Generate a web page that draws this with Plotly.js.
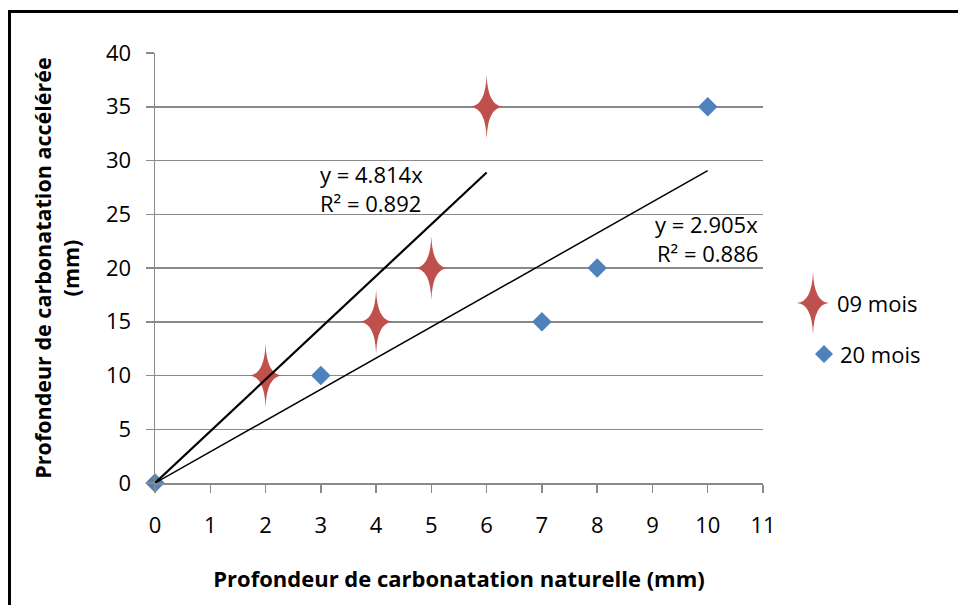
<!DOCTYPE html>
<html>
<head>
<meta charset="utf-8">
<script src="https://cdn.plot.ly/plotly-3.0.1.min.js"></script>
<style>
html,body{margin:0;padding:0;background:#fff;width:958px;height:605px;overflow:hidden;}
#frame{position:absolute;left:8px;top:10px;width:1000px;height:700px;border:3px solid #000;box-sizing:border-box;}
#chart{position:absolute;left:0;top:0;width:958px;height:605px;}
</style>
</head>
<body>
<div id="frame"></div>
<div id="chart"></div>
<script>
// Data
const seriesNames = ['09 mois', '20 mois'];
const x09 = [2, 4, 5, 6];
const y09 = [10, 15, 20, 35];
const x20 = [0, 3, 7, 8, 10];
const y20 = [0, 10, 15, 20, 35];
const slope09 = 4.814, r2_09 = 0.892;
const slope20 = 2.905, r2_20 = 0.886;
const xTicks = [0,1,2,3,4,5,6,7,8,9,10,11];
const yTicks = [0,5,10,15,20,25,30,35,40];

const red = '#C0504D', blue = '#4F81BD';
const FONT = 'Open Sans, Noto Sans, sans-serif';

const x09max = Math.max(...x09), x20max = Math.max(...x20);

const traces = [
  {x: x20, y: y20, mode: 'markers', name: seriesNames[1], showlegend: false, cliponaxis: false,
   marker: {symbol: 'diamond', size: 15, color: blue}},
  {x: x09, y: y09, mode: 'markers', name: seriesNames[0], showlegend: false, cliponaxis: false,
   marker: {symbol: 'diamond', size: 7, color: red}},
  {x: [0, x09max], y: [0, slope09 * x09max], mode: 'lines', showlegend: false,
   line: {color: '#000', width: 2.2}, hoverinfo: 'skip'},
  {x: [0, x20max], y: [0, slope20 * x20max], mode: 'lines', showlegend: false,
   line: {color: '#000', width: 1.5}, hoverinfo: 'skip'}
];

const starPath = (w, h) => `M0,${h} Q1,1 ${w},0 Q1,-1 0,${-h} Q-1,-1 ${-w},0 Q-1,1 0,${h} Z`;
const diamondPath = (r) => `M0,${r} L${r},0 L0,${-r} L${-r},0 Z`;

const shapes = x09.map((xv, i) => ({
  type: 'path', xref: 'x', yref: 'y', xsizemode: 'pixel', ysizemode: 'pixel',
  xanchor: xv, yanchor: y09[i], path: starPath(16.5, 32),
  fillcolor: red, line: {width: 0}, layer: 'between'
}));
// legend symbols
shapes.push({type: 'path', xref: 'paper', yref: 'paper', xsizemode: 'pixel', ysizemode: 'pixel',
  xanchor: 1.0822, yanchor: 0.4186, path: starPath(16, 31.5), fillcolor: red, line: {width: 0}});
shapes.push({type: 'path', xref: 'paper', yref: 'paper', xsizemode: 'pixel', ysizemode: 'pixel',
  xanchor: 1.1003, yanchor: 0.30, path: diamondPath(9), fillcolor: blue, line: {width: 0}});

const annFont = {family: FONT, size: 22, color: '#000'};
const annotations = [
  {x: 2.949, y: 28.74, xref: 'x', yref: 'y', text: `y = ${slope09}x`, showarrow: false, xanchor: 'left', yanchor: 'middle', font: annFont},
  {x: 2.949, y: 26.05, xref: 'x', yref: 'y', text: `R² = ${r2_09}`, showarrow: false, xanchor: 'left', yanchor: 'middle', font: annFont},
  {x: 10.946, y: 24.09, xref: 'x', yref: 'y', text: `y = ${slope20}x`, showarrow: false, xanchor: 'right', yanchor: 'middle', font: annFont},
  {x: 10.946, y: 21.4, xref: 'x', yref: 'y', text: `R² = ${r2_20}`, showarrow: false, xanchor: 'right', yanchor: 'middle', font: annFont},
  {x: 1.1184, y: 0.4186, xref: 'paper', yref: 'paper', text: seriesNames[0], showarrow: false, xanchor: 'left', yanchor: 'middle', font: annFont},
  {x: 1.1234, y: 0.30, xref: 'paper', yref: 'paper', text: seriesNames[1], showarrow: false, xanchor: 'left', yanchor: 'middle', font: annFont}
];

const gridCol = '#8a8a8a';
const layout = {
  width: 958, height: 605,
  margin: {l: 155, r: 195, t: 53, b: 122},
  paper_bgcolor: 'rgba(0,0,0,0)', plot_bgcolor: 'rgba(0,0,0,0)',
  font: {family: FONT, size: 22, color: '#000'},
  showlegend: false,
  xaxis: {
    range: [0, 11], tickvals: xTicks, ticktext: xTicks.map(String),
    showgrid: false, zeroline: false, showline: true, linecolor: gridCol, linewidth: 1.5,
    ticks: 'outside', ticklen: 8, tickcolor: gridCol, tickwidth: 1.5, ticklabelstandoff: 14,
    tickfont: {family: FONT, size: 22},
    title: {text: '<b>Profondeur de carbonatation naturelle (mm)</b>', font: {family: FONT, size: 22}, standoff: 33}
  },
  yaxis: {
    range: [0, 40], tickvals: yTicks, ticktext: yTicks.map(String),
    showgrid: true, gridcolor: gridCol, gridwidth: 1.5, zeroline: false,
    showline: true, linecolor: gridCol, linewidth: 1.5,
    ticks: 'outside', ticklen: 8, tickcolor: gridCol, tickwidth: 1.5, ticklabelstandoff: 10,
    tickfont: {family: FONT, size: 22},
    title: {text: '<b>Profondeur de carbonatation accélérée<br>(mm)</b>', font: {family: FONT, size: 21.5}, standoff: 20}
  },
  shapes: shapes,
  annotations: annotations
};

Plotly.newPlot('chart', traces, layout, {displayModeBar: false, staticPlot: true});
</script>
</body>
</html>
